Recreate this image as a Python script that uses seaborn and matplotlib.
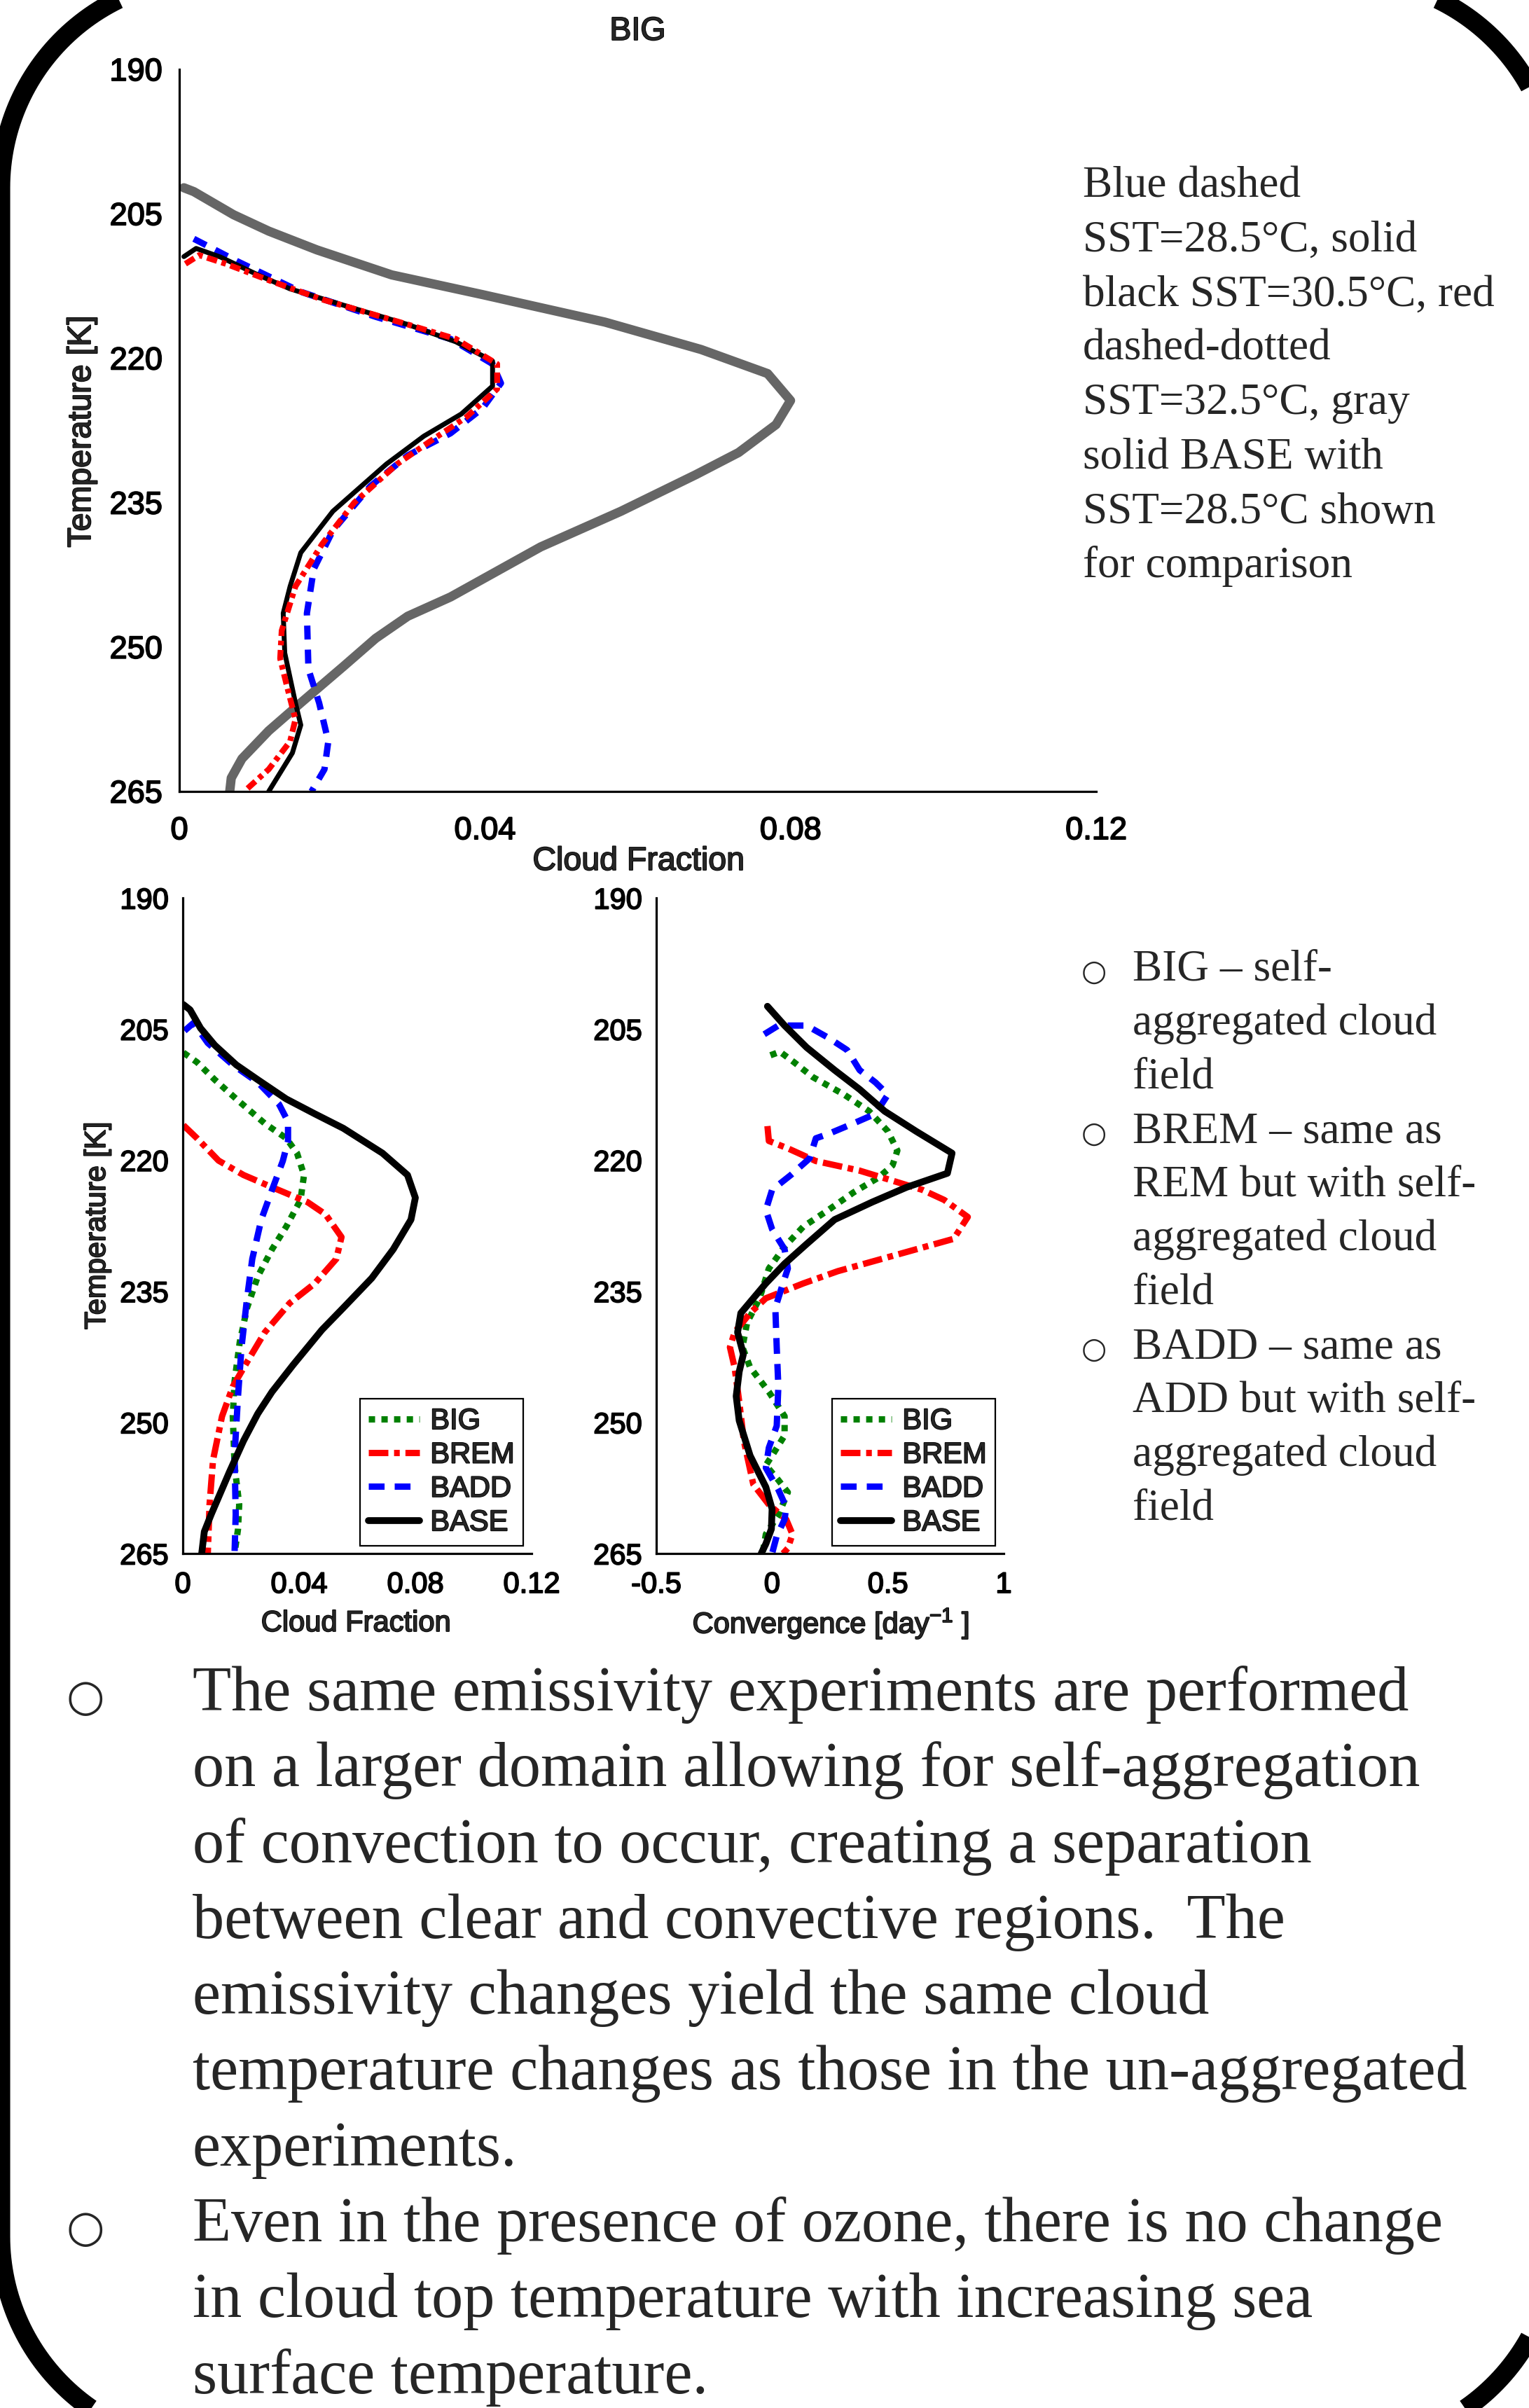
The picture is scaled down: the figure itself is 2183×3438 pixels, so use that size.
import numpy as np
import pandas as pd
import matplotlib
matplotlib.use('Agg')
import matplotlib.pyplot as plt
import matplotlib.patheffects as pe
import seaborn as sns
from matplotlib.path import Path
from matplotlib.patches import PathPatch

# ---------------- data: top panel (BIG, SST sensitivity) ----------------
temp_ticks = [190, 205, 220, 235, 250, 265]
cf_ticks = [0, 0.04, 0.08, 0.12]
cf_ticklabels = ['0', '0.04', '0.08', '0.12']
conv_ticks = [-0.5, 0, 0.5, 1]
conv_ticklabels = ['-0.5', '0', '0.5', '1']

# gray solid: BASE, SST=28.5C
top_base_cf = [0.0006, 0.0019, 0.0071, 0.0117, 0.018, 0.0278, 0.0397, 0.0557, 0.0683, 0.077, 0.080,
               0.0781, 0.0732, 0.0676, 0.0578, 0.0473, 0.0355, 0.0299, 0.0257, 0.0215, 0.0159, 0.0117,
               0.0082, 0.0068, 0.0066]
top_base_t = [202.3, 202.7, 205.1, 206.8, 208.75, 211.35, 213.4, 216.25, 219.1, 221.6, 224.4,
              226.9, 229.8, 232.1, 235.9, 239.6, 244.8, 246.8, 249.1, 252.0, 255.8, 258.7,
              261.6, 263.6, 265.0]
# blue dashed: SST=28.5C
top_285_cf = [0.0019, 0.0075, 0.0159, 0.0257, 0.0355, 0.041, 0.0421, 0.0397, 0.0355, 0.0299, 0.025,
              0.0201, 0.0176, 0.0167, 0.0169, 0.0183, 0.0195, 0.019, 0.0173]
top_285_t = [207.6, 209.9, 213.1, 215.7, 218.0, 220.6, 222.6, 225.2, 227.8, 230.1, 233.3,
             237.9, 241.9, 246.5, 252.3, 255.8, 259.8, 262.7, 265.0]
# black solid: SST=30.5C
top_305_cf = [0.0006, 0.0022, 0.0054, 0.0103, 0.0145, 0.0215, 0.0299, 0.0362, 0.041, 0.041, 0.0369,
              0.032, 0.0271, 0.0201, 0.0159, 0.0145, 0.0136, 0.0138, 0.0152, 0.0159, 0.0148, 0.0117]
top_305_t = [209.45, 208.6, 209.5, 211.35, 212.8, 214.5, 216.5, 218.3, 220.3, 222.9, 225.8,
             228.1, 231.0, 235.9, 240.2, 243.7, 246.5, 250.6, 255.8, 258.1, 261.0, 265.0]
# red dash-dotted: SST=32.5C
top_325_cf = [0.0008, 0.0026, 0.0061, 0.0117, 0.0187, 0.0299, 0.0362, 0.0416, 0.0416, 0.0376, 0.0327,
              0.0285, 0.0229, 0.0187, 0.0152, 0.0134, 0.0132, 0.0141, 0.0152, 0.0145, 0.0117, 0.0085]
top_325_t = [210.2, 209.3, 210.2, 211.9, 213.9, 216.5, 218.0, 220.6, 223.2, 226.1, 228.7,
             231.0, 235.0, 239.3, 243.7, 248.3, 251.2, 254.1, 257.5, 259.8, 262.7, 265.0]

# ---------------- data: bottom-left panel (cloud fraction) ----------------
cf_big = [0.0002, 0.0049, 0.011, 0.0184, 0.0282, 0.0356, 0.0393, 0.0417, 0.0405, 0.0356, 0.0307,
          0.0258, 0.0221, 0.0196, 0.0178, 0.0172, 0.0178, 0.0194, 0.019, 0.0178]
cf_big_t = [207.7, 208.8, 210.8, 213.0, 215.8, 217.5, 219.2, 221.7, 224.55, 227.6, 230.2,
            233.3, 236.9, 240.8, 245.3, 249.3, 254.9, 259.4, 262.2, 265.0]
cf_brem = [0.0002, 0.0049, 0.0123, 0.0209, 0.0307, 0.0429, 0.0491, 0.0546, 0.0528, 0.0454, 0.0368,
           0.0282, 0.0221, 0.0172, 0.0135, 0.0104, 0.0092, 0.0086]
cf_brem_t = [216.0, 217.5, 220.05, 221.7, 223.1, 224.8, 226.2, 228.8, 231.3, 234.1, 236.35,
             239.7, 243.1, 245.9, 249.3, 254.3, 259.4, 265.0]
cf_badd = [0.0006, 0.0037, 0.0086, 0.0172, 0.0258, 0.0331, 0.0362, 0.0362, 0.0344, 0.0307, 0.027,
           0.0239, 0.0221, 0.0202, 0.019, 0.0178, 0.0182, 0.0178]
cf_badd_t = [205.2, 204.3, 206.6, 209.1, 211.1, 213.6, 215.6, 217.8, 220.1, 223.4, 226.8,
             231.3, 235.8, 241.4, 247.0, 253.8, 260.5, 265.0]
cf_base = [0.0002, 0.0025, 0.0061, 0.011, 0.0184, 0.0258, 0.0356, 0.0454, 0.0552, 0.0687, 0.0773,
           0.080, 0.0785, 0.0724, 0.065, 0.0552, 0.0479, 0.038, 0.0307, 0.0258, 0.0209, 0.016,
           0.0098, 0.0074, 0.0065]
cf_base_t = [202.2, 202.8, 204.9, 206.85, 209.1, 210.8, 213.0, 214.7, 216.35, 219.2, 221.7,
             224.3, 226.8, 230.2, 233.5, 236.9, 239.4, 243.4, 246.5, 249.0, 252.1, 255.7,
             260.5, 262.5, 265.0]

# ---------------- data: bottom-right panel (convergence) ----------------
cv_big = [-0.007, 0.034, 0.095, 0.176, 0.311, 0.419, 0.5, 0.541, 0.52, 0.459, 0.351, 0.243, 0.135,
          0.054, -0.014, -0.054, -0.108, -0.128, -0.095, -0.014, 0.054, 0.054, 0.0, -0.027, 0.027,
          0.068, 0.027, -0.027, -0.041]
cv_big_t = [208.0, 207.6, 208.8, 210.5, 212.5, 214.4, 216.7, 218.9, 220.6, 222.0, 223.7, 225.7, 227.6,
            229.9, 232.4, 235.8, 238.6, 241.4, 243.7, 246.5, 249.3, 251.5, 253.8, 254.9, 256.6,
            258.0, 260.6, 262.8, 265.0]
cv_brem = [-0.02, -0.014, 0.068, 0.189, 0.378, 0.514, 0.649, 0.743, 0.845, 0.784, 0.514, 0.284, 0.135,
           -0.027, -0.095, -0.162, -0.182, -0.162, -0.142, -0.122, -0.081, -0.014, 0.061, 0.088,
           0.068, 0.047]
cv_brem_t = [216.1, 217.8, 218.65, 220.1, 221.2, 222.3, 223.4, 224.55, 226.5, 229.0, 231.0, 232.7, 234.1,
             235.8, 237.5, 239.7, 241.4, 243.7, 247.6, 252.1, 257.1, 259.4, 261.1, 262.8,
             264.4, 265.0]
cv_badd = [-0.034, 0.027, 0.149, 0.243, 0.324, 0.378, 0.446, 0.5, 0.446, 0.351, 0.243, 0.189, 0.162,
           0.081, 0.0, -0.027, 0.0, 0.054, 0.068, 0.041, 0.014, 0.02, 0.027, 0.02, -0.014, -0.027,
           0.027, 0.061, 0.054, 0.02, 0.0]
cv_badd_t = [205.6, 204.6, 204.6, 206.0, 207.4, 209.7, 211.1, 212.5, 214.7, 215.8, 217.0, 217.5, 219.8,
             221.7, 223.4, 225.7, 227.9, 230.2, 232.4, 234.6, 236.9, 241.4, 245.9, 250.4, 252.9, 255.2,
             257.7, 259.7, 261.1, 263.0, 265.0]
cv_base = [-0.02, 0.054, 0.149, 0.27, 0.378, 0.486, 0.622, 0.777, 0.757, 0.581, 0.432, 0.27, 0.149,
           0.054, -0.027, -0.081, -0.135, -0.149, -0.124, -0.142, -0.155, -0.142, -0.095, -0.027,
           0.0, -0.003, -0.027, -0.047]
cv_base_t = [202.4, 204.6, 207.1, 209.7, 211.9, 214.4, 216.7, 219.2, 221.5, 223.1, 224.8, 226.8, 229.6,
             231.85, 234.1, 235.8, 237.5, 239.7, 242.2, 244.2, 247.0, 249.8, 253.8, 257.4,
             259.9, 262.2, 263.9, 265.0]

legend_names = ['BIG', 'BREM', 'BADD', 'BASE']

# ---------------- slide text ----------------
note_lines = ['Blue dashed', 'SST=28.5°C, solid', 'black SST=30.5°C, red', 'dashed-dotted',
              'SST=32.5°C, gray', 'solid BASE with', 'SST=28.5°C shown', 'for comparison']
side_lines = ['BIG – self-', 'aggregated cloud', 'field', 'BREM – same as', 'REM but with self-',
              'aggregated cloud', 'field', 'BADD – same as', 'ADD but with self-',
              'aggregated cloud', 'field']
side_bullets = [0, 3, 7]
body_lines = ['The same emissivity experiments are performed',
              'on a larger domain allowing for self-aggregation',
              'of convection to occur, creating a separation',
              'between clear and convective regions.  The',
              'emissivity changes yield the same cloud',
              'temperature changes as those in the un-aggregated',
              'experiments.',
              'Even in the presence of ozone, there is no change',
              'in cloud top temperature with increasing sea',
              'surface temperature.']
body_bullets = [0, 7]

sns.set_style('white')
plt.rcParams['font.family'] = ['Liberation Sans', 'DejaVu Sans']
plt.rcParams['mathtext.fontset'] = 'custom'
plt.rcParams['mathtext.rm'] = 'Liberation Sans'
plt.rcParams['mathtext.it'] = 'Liberation Sans'

W, H = 2183, 3438
fig = plt.figure(figsize=(W / 100, H / 100), dpi=100)
fig.patch.set_facecolor('white')

# background axes in pixel units, for the slide frame and text
bg = fig.add_axes([0, 0, 1, 1])
bg.set_xlim(0, W)
bg.set_ylim(H, 0)
bg.axis('off')

# rounded slide frame (circular corners), mostly running off the page
fl, fr, ft, fb, rad = 1, 2221, -31, 3492, 299
corners = [(fr - rad, ft + rad, 270, 360), (fr - rad, fb - rad, 0, 90),
           (fl + rad, fb - rad, 90, 180), (fl + rad, ft + rad, 180, 270)]
verts = []
for cx, cy, a0, a1 in corners:
    ang = np.radians(np.linspace(a0, a1, 60))
    verts += list(zip(cx + rad * np.cos(ang), cy + rad * np.sin(ang)))
verts.append(verts[0])
codes = [Path.MOVETO] + [Path.LINETO] * (len(verts) - 2) + [Path.CLOSEPOLY]
bg.add_patch(PathPatch(Path(verts, codes), facecolor='none', edgecolor='black',
                       linewidth=19.5, joinstyle='round'))

serif = ['Liberation Serif', 'DejaVu Serif']
for i, s in enumerate(note_lines):
    bg.text(1546, 281 + 77.6 * i, s, family=serif, fontsize=45.5, va='baseline', ha='left')
for i, s in enumerate(side_lines):
    y = 1400 + 77 * i
    bg.text(1617, y, s, family=serif, fontsize=45.5, va='baseline', ha='left')
    if i in side_bullets:
        bg.text(1562, y, '○', family=['DejaVu Sans'], fontsize=30, va='baseline', ha='center')
for i, s in enumerate(body_lines):
    y = 2442 + 108.3 * i
    bg.text(275, y, s, family=serif, fontsize=65, va='baseline', ha='left')
    if i in body_bullets:
        bg.text(122, y, '○', family=['DejaVu Sans'], fontsize=45, va='baseline', ha='center')

thick = [pe.withStroke(linewidth=1.3, foreground='black')]


def px_axes(left, right, top, bottom):
    return fig.add_axes([left / W, (H - bottom) / H, (right - left) / W, (bottom - top) / H])


def draw(ax, x, t, color, lw, dash=None, label=None):
    df = pd.DataFrame({'x': x, 'T': t})
    ls = '-' if dash is None else (0, dash)
    sns.lineplot(data=df, x='x', y='T', ax=ax, sort=False, estimator=None, color=color,
                 linewidth=lw, linestyle=ls, label=label, legend=False)


def style_axes(ax, tick_size, tick_len, xpad, ypad):
    ax.set_facecolor('none')
    sns.despine(ax=ax)
    for sp in ('left', 'bottom'):
        ax.spines[sp].set_linewidth(2.3)
        ax.spines[sp].set_color('black')
    ax.set_ylim(265, 190)
    ax.set_yticks(temp_ticks)
    ax.tick_params(axis='both', direction='out', length=tick_len, width=2.3, color='black',
                   labelsize=tick_size, labelcolor='black')
    ax.tick_params(axis='x', pad=xpad)
    ax.tick_params(axis='y', pad=ypad)
    for lab in ax.get_xticklabels() + ax.get_yticklabels():
        lab.set_path_effects(thick)


# ---------------- top panel ----------------
ax1 = px_axes(256, 1565, 99, 1130)
draw(ax1, top_base_cf, top_base_t, '#666666', 9.5)
draw(ax1, top_285_cf, top_285_t, '#0000ff', 6.5, (2.2, 1.6))
draw(ax1, top_305_cf, top_305_t, 'black', 5)
draw(ax1, top_325_cf, top_325_t, '#ff0000', 6, (1.8, 0.8, 0.8, 0.8))
ax1.set_xlim(0, 0.12)
ax1.set_xticks(cf_ticks, labels=cf_ticklabels)
style_axes(ax1, 32.5, 9, 17, 8.5)
ax1.set_xlabel('Cloud Fraction', fontsize=33.5, va='center', ha='center', path_effects=thick)
ax1.xaxis.set_label_coords(0.501, -0.097)
ax1.set_ylabel('Temperature [K]', fontsize=33.5, va='center', ha='center', path_effects=thick)
ax1.yaxis.set_label_coords(-0.1062, 0.4985)
ax1.set_title('BIG', fontsize=33.5, y=1.0524, va='center', pad=0, path_effects=thick)

# ---------------- bottom panels ----------------
ax2 = px_axes(261, 759, 1282, 2218)
ax3 = px_axes(937, 1433, 1282, 2218)
series = [
    (cf_big, cf_big_t, cv_big, cv_big_t, '#008000', 6.5, (1, 1)),
    (cf_brem, cf_brem_t, cv_brem, cv_brem_t, '#ff0000', 6.5, (3.1, 0.9, 0.9, 0.9)),
    (cf_badd, cf_badd_t, cv_badd, cv_badd_t, '#0000ff', 6.5, (2.5, 1.6)),
    (cf_base, cf_base_t, cv_base, cv_base_t, 'black', 7, None),
]
for name, (cx, ct, vx, vt, col, lw, dash) in zip(legend_names, series):
    draw(ax2, cx, ct, col, lw, dash, label=name)
    draw(ax3, vx, vt, col, lw, dash, label=name)

ax2.set_xlim(0, 0.12)
ax2.set_xticks(cf_ticks, labels=cf_ticklabels)
ax3.set_xlim(-0.5, 1)
ax3.set_xticks(conv_ticks, labels=conv_ticklabels)
for ax in (ax2, ax3):
    style_axes(ax, 30, 9.5, 8.5, 5)
    leg = ax.legend(loc='lower right', bbox_to_anchor=(0.976, 0.012), borderaxespad=0,
                    fontsize=30, frameon=True, fancybox=False, framealpha=1, edgecolor='black',
                    handlelength=1.75, handletextpad=0.36, borderpad=0.3, labelspacing=0.2)
    leg.get_frame().set_linewidth(1.6)
    for txt in leg.get_texts():
        txt.set_path_effects(thick)

ax2.set_xlabel('Cloud Fraction', fontsize=30, va='center', ha='center', path_effects=thick)
ax2.xaxis.set_label_coords(0.496, -0.1068)
ax2.set_ylabel('Temperature [K]', fontsize=30, va='center', ha='center', path_effects=thick)
ax2.yaxis.set_label_coords(-0.245, 0.5)
ax3.set_xlabel('Convergence [day$^{-1}$ ]', fontsize=30, va='center', ha='center',
               path_effects=thick)
ax3.xaxis.set_label_coords(0.502, -0.1068)
ax3.set_ylabel('')

fig.savefig('out.png', dpi=100)
